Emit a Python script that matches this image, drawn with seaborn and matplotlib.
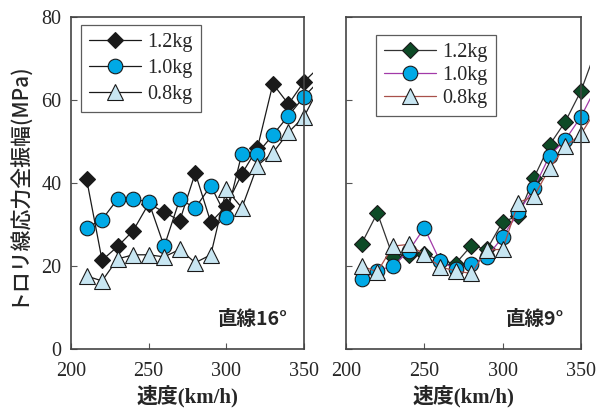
import numpy as np
import pandas as pd
import matplotlib
matplotlib.use('Agg')
import matplotlib.pyplot as plt
import seaborn as sns
from matplotlib.transforms import Bbox, TransformedBbox

sns.set_style('ticks')
plt.rcParams['font.family'] = ['Liberation Serif', 'Noto Sans CJK JP']

# speeds (km/h); 360 only continues the line past the frame
speed = [210, 220, 230, 240, 250, 260, 270, 280, 290, 300, 310, 320, 330, 340, 350, 360]
labels = ['1.2kg', '1.0kg', '0.8kg']

# left panel: 直線16°
left_12 = [41.0, 21.4, 24.7, 28.5, 35.0, 33.0, 30.9, 42.4, 30.5, 34.5, 42.2, 48.4, 63.9, 59.0, 64.4, 68.0]
left_10 = [29.2, 31.2, 36.1, 36.1, 35.5, 24.7, 36.1, 34.0, 39.3, 31.9, 47.1, 47.1, 51.6, 56.2, 60.8, 64.7]
left_08 = [17.6, 16.4, 21.7, 22.7, 22.7, 22.2, 24.0, 20.8, 22.7, 38.5, 34.0, 44.2, 47.3, 52.2, 56.0, 63.1]

# right panel: 直線9°
right_12 = [25.4, 32.8, 22.2, 22.6, 23.0, 21.3, 20.6, 24.9, 24.0, 30.7, 32.0, 41.3, 49.2, 54.8, 62.2, 72.5]
right_10 = [16.8, 18.9, 20.0, 23.6, 29.2, 21.2, 19.2, 20.6, 22.2, 27.0, 32.9, 38.8, 46.6, 50.4, 56.0, 63.3]
right_08 = [20.0, 18.6, 24.8, 25.2, 22.8, 19.8, 18.8, 18.2, 23.9, 24.0, 35.3, 36.8, 43.6, 48.8, 51.8, 57.8]

fig = plt.figure(figsize=(5.97, 4.12), dpi=100)
ax1 = fig.add_axes([71 / 597, 63 / 412, 233 / 597, 332 / 412])
ax2 = fig.add_axes([346 / 597, 63 / 412, 235 / 597, 332 / 412])

left_styles = [
    dict(marker='D', mfc='#1a1a1a', color='#1a1a1a', ms=8.5),
    dict(marker='o', mfc='#00a9e6', color='#1a1a1a', ms=10.5),
    dict(marker='^', mfc='#c8e6f2', color='#1a1a1a', ms=12),
]
right_styles = [
    dict(marker='D', mfc='#0d4a26', color='#333333', ms=8.5),
    dict(marker='o', mfc='#00a9e6', color='#a23aa8', ms=10.5),
    dict(marker='^', mfc='#c8e6f2', color='#a8504a', ms=12),
]

markers_at = list(range(len(speed) - 1))


def draw(ax, series, styles, corner, legend_pos, spacing):
    clip = TransformedBbox(Bbox([[0, 0], [1.038, 1]]), ax.transAxes)
    for vals, st, lab in zip(series, styles, labels):
        sns.lineplot(x=speed, y=vals, ax=ax, label=lab, color=st['color'],
                     marker=st['marker'], markerfacecolor=st['mfc'],
                     markeredgecolor='#1a1a1a', markeredgewidth=0.8,
                     markersize=st['ms'], linewidth=0.9,
                     markevery=markers_at, sort=False)
    for line in ax.lines:
        line.set_clip_box(clip)
    ax.set_xlim(200, 350)
    ax.set_ylim(0, 80)
    ax.set_xticks([200, 250, 300, 350])
    ax.set_yticks([0, 20, 40, 60, 80])
    ax.tick_params(direction='in', length=4, width=0.8, labelsize=14.5, color='#555555')
    ax.tick_params(axis='x', pad=9)
    ax.tick_params(axis='y', pad=7)
    for sp in ax.spines.values():
        sp.set_visible(True)
        sp.set_linewidth(1.2)
        sp.set_color('#444444')
    ax.set_xlabel('速度(km/h)', fontsize=15, fontweight='bold', labelpad=3)
    ax.text(0.93, 0.09, corner, transform=ax.transAxes, ha='right', va='center',
            fontsize=14, fontweight='bold', family=['Noto Sans CJK JP'])
    leg = ax.legend(loc='upper left', bbox_to_anchor=legend_pos, frameon=True,
                    fancybox=False, edgecolor='#333333', fontsize=14.5,
                    handlelength=2.6, handletextpad=0.3, labelspacing=spacing,
                    borderpad=0.4, borderaxespad=0)
    leg.get_frame().set_linewidth(0.9)


draw(ax1, [left_12, left_10, left_08], left_styles, '直線16°', (0.043, 0.976), 0.35)
draw(ax2, [right_12, right_10, right_08], right_styles, '直線9°', (0.128, 0.946), 0.2)

ax1.set_ylabel('トロリ線応力全振幅(MPa)', fontsize=15, fontweight='medium',
               family=['Noto Sans CJK JP'], labelpad=9)
ax2.set_ylabel('')
ax2.set_yticklabels([])

fig.savefig('out.png', dpi=100)
